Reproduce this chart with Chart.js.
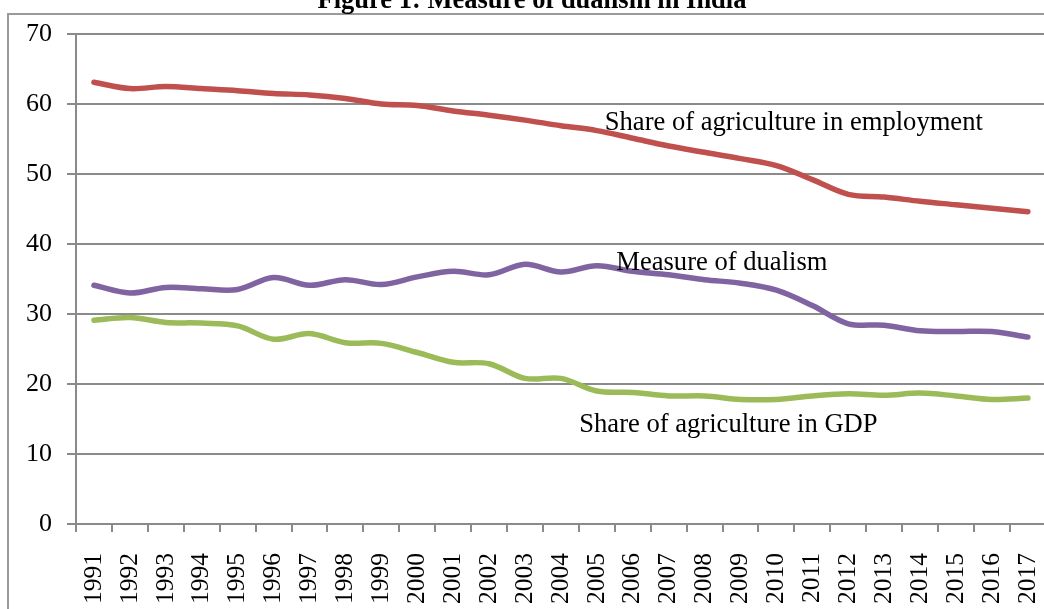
<!DOCTYPE html>
<html>
<head>
<meta charset="utf-8">
<script src="https://cdn.jsdelivr.net/npm/chart.js@4/dist/chart.umd.min.js"></script>
<style>
html,body{margin:0;padding:0;overflow:hidden;background:#fff;width:1044px;height:609px;}
canvas{position:absolute;left:0;top:0;}
</style>
</head>
<body>
<canvas id="c" width="1080" height="640"></canvas>
<script>
const years = ["1991","1992","1993","1994","1995","1996","1997","1998","1999","2000","2001","2002","2003","2004","2005","2006","2007","2008","2009","2010","2011","2012","2013","2014","2015","2016","2017"];
const employment = [63.1,62.2,62.5,62.2,61.9,61.5,61.3,60.8,60.0,59.8,59.0,58.4,57.7,56.9,56.2,55.1,54.0,53.1,52.2,51.2,49.2,47.1,46.7,46.1,45.6,45.1,44.6];
const dualism = [34.1,33.0,33.8,33.6,33.5,35.2,34.1,34.9,34.2,35.3,36.1,35.6,37.1,36.0,36.9,36.1,35.6,34.9,34.4,33.4,31.2,28.6,28.4,27.6,27.5,27.5,26.7];
const gdp = [29.1,29.5,28.8,28.7,28.3,26.4,27.2,25.9,25.8,24.5,23.1,22.9,20.8,20.8,19.0,18.8,18.3,18.3,17.8,17.8,18.3,18.6,18.4,18.7,18.3,17.8,18.0];
const yTicks = [0,10,20,30,40,50,60,70];
const title = "Figure 1: Measure of dualism in India";
const labels = [
  {text:"Share of agriculture in employment", x:14.22, y:57.3},
  {text:"Measure of dualism", x:14.54, y:37.3},
  {text:"Share of agriculture in GDP", x:13.51, y:14.1}
];

const serif = "'Liberation Serif','Times New Roman',serif";
const gridCol = "#8a8a8a";

const decor = {
  id:'decor',
  beforeDraw(chart){
    const ctx = chart.ctx;
    ctx.save();
    ctx.strokeStyle = "#9a9a9a";
    ctx.lineWidth = 2;
    ctx.strokeRect(8, 14, 1200, 800);
    ctx.fillStyle = "#000";
    ctx.font = "bold 26.5px " + serif;
    ctx.textAlign = "center";
    ctx.textBaseline = "alphabetic";
    ctx.fillText(title, 532, 8);
    ctx.restore();
  },
  afterDatasetsDraw(chart){
    const ctx = chart.ctx;
    const xs = chart.scales.x, ys = chart.scales.y;
    ctx.save();
    ctx.fillStyle = "#000";
    ctx.font = "26.6px " + serif;
    ctx.textAlign = "left";
    ctx.textBaseline = "middle";
    labels.forEach(l => ctx.fillText(l.text, xs.getPixelForValue(l.x), ys.getPixelForValue(l.y)));
    ctx.restore();
  }
};

const common = {pointRadius:0, borderWidth:5.5, tension:0.35, fill:false, borderCapStyle:'round', borderJoinStyle:'round'};

new Chart(document.getElementById('c'), {
  type:'line',
  data:{
    labels: years,
    datasets:[
      Object.assign({label:"Share of agriculture in employment", data:employment, borderColor:"#C0504D"}, common),
      Object.assign({label:"Measure of dualism", data:dualism, borderColor:"#8064A2"}, common),
      Object.assign({label:"Share of agriculture in GDP", data:gdp, borderColor:"#9BBB59"}, common)
    ]
  },
  options:{
    responsive:false,
    devicePixelRatio:1,
    animation:false,
    layout:{padding:{top:34,right:27,left:0,bottom:0}},
    plugins:{legend:{display:false}, tooltip:{enabled:false}},
    scales:{
      x:{
        offset:true,
        grid:{offset:true, drawOnChartArea:false, drawTicks:true, tickLength:8, color:gridCol, lineWidth:2},
        border:{color:gridCol, width:2},
        ticks:{minRotation:90, maxRotation:90, autoSkip:false, padding:21, color:"#000", font:{family:serif, size:25.5}},
        afterFit(s){ s.height = 116; }
      },
      y:{
        min:0, max:70,
        afterBuildTicks(s){ s.ticks = yTicks.map(v=>({value:v})); },
        grid:{color:gridCol, lineWidth:2, tickLength:9},
        border:{color:gridCol, width:2},
        ticks:{padding:15, color:"#000", font:{family:serif, size:26}},
        afterFit(s){ s.width = 76; }
      }
    }
  },
  plugins:[decor]
});
</script>
</body>
</html>
